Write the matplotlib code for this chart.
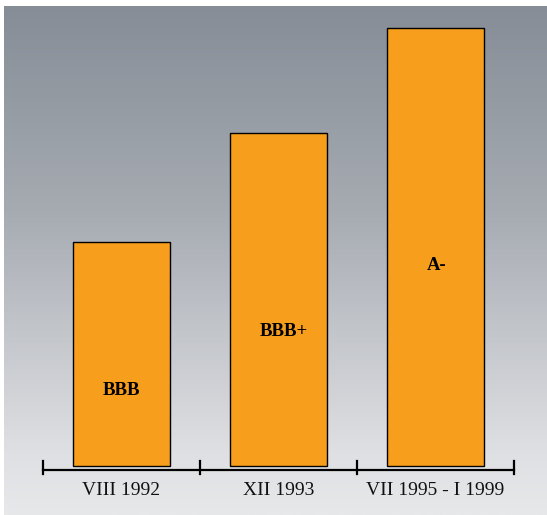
import numpy as np
import matplotlib
matplotlib.use("Agg")
import matplotlib.pyplot as plt
from matplotlib.colors import LinearSegmentedColormap

# datos
periodos = ["VIII 1992", "XII 1993", "VII 1995 - I 1999"]
alturas = [224, 333, 438]
calificaciones = ["BBB", "BBB+", "A-"]
pos_etiqueta = [0.335, 0.405, 0.457]   # fraccion de la barra donde va el texto
desplaz = [0.0, 0.035, 0.01]           # pequeño corrimiento horizontal del texto

W, H = 547, 515
fig = plt.figure(figsize=(W / 100, H / 100), dpi=100)

# fondo degradado
fondo = fig.add_axes([4 / W, 0, 1 - 4 / W, 1 - 6 / H])
cmap = LinearSegmentedColormap.from_list(
    "fondo", [(0.0, "#e7e8ea"), (0.12, "#dfe0e3"), (0.6, "#a6abb2"), (1.0, "#868d96")])
grad = np.linspace(0, 1, 256).reshape(-1, 1)
fondo.imshow(grad, aspect="auto", cmap=cmap, origin="lower", extent=[0, 1, 0, 1])
fondo.axis("off")

# ejes principales (en pixeles: x 43-514, y 6-470)
ax = fig.add_axes([43 / W, (H - 470) / H, (514 - 43) / W, (470 - 6) / H])
ax.patch.set_alpha(0)
x = np.arange(len(periodos))
ax.bar(x, alturas, width=0.62, bottom=4, color="#f79e1d", edgecolor="black", linewidth=1)
ax.set_xlim(-0.5, 2.5)
ax.set_ylim(0, 464)

for i in range(len(periodos)):
    ax.text(x[i] + desplaz[i], 4 + alturas[i] * pos_etiqueta[i], calificaciones[i],
            ha="center", va="center", fontsize=13.5, fontweight="bold",
            family="Liberation Serif")

for s in ["top", "right", "left"]:
    ax.spines[s].set_visible(False)
ax.spines["bottom"].set_linewidth(1.6)
ax.set_yticks([])
ax.set_xticks([])

# marcas entre categorias
for b in [-0.5, 0.5, 1.5, 2.5]:
    ax.plot([b, b], [-4, 9], color="black", lw=1.6, clip_on=False)

for i in range(len(periodos)):
    ax.text(x[i], -12, periodos[i], ha="center", va="top", fontsize=14,
            family="Liberation Serif", color="#111111")

fig.savefig("out.png", dpi=100)
